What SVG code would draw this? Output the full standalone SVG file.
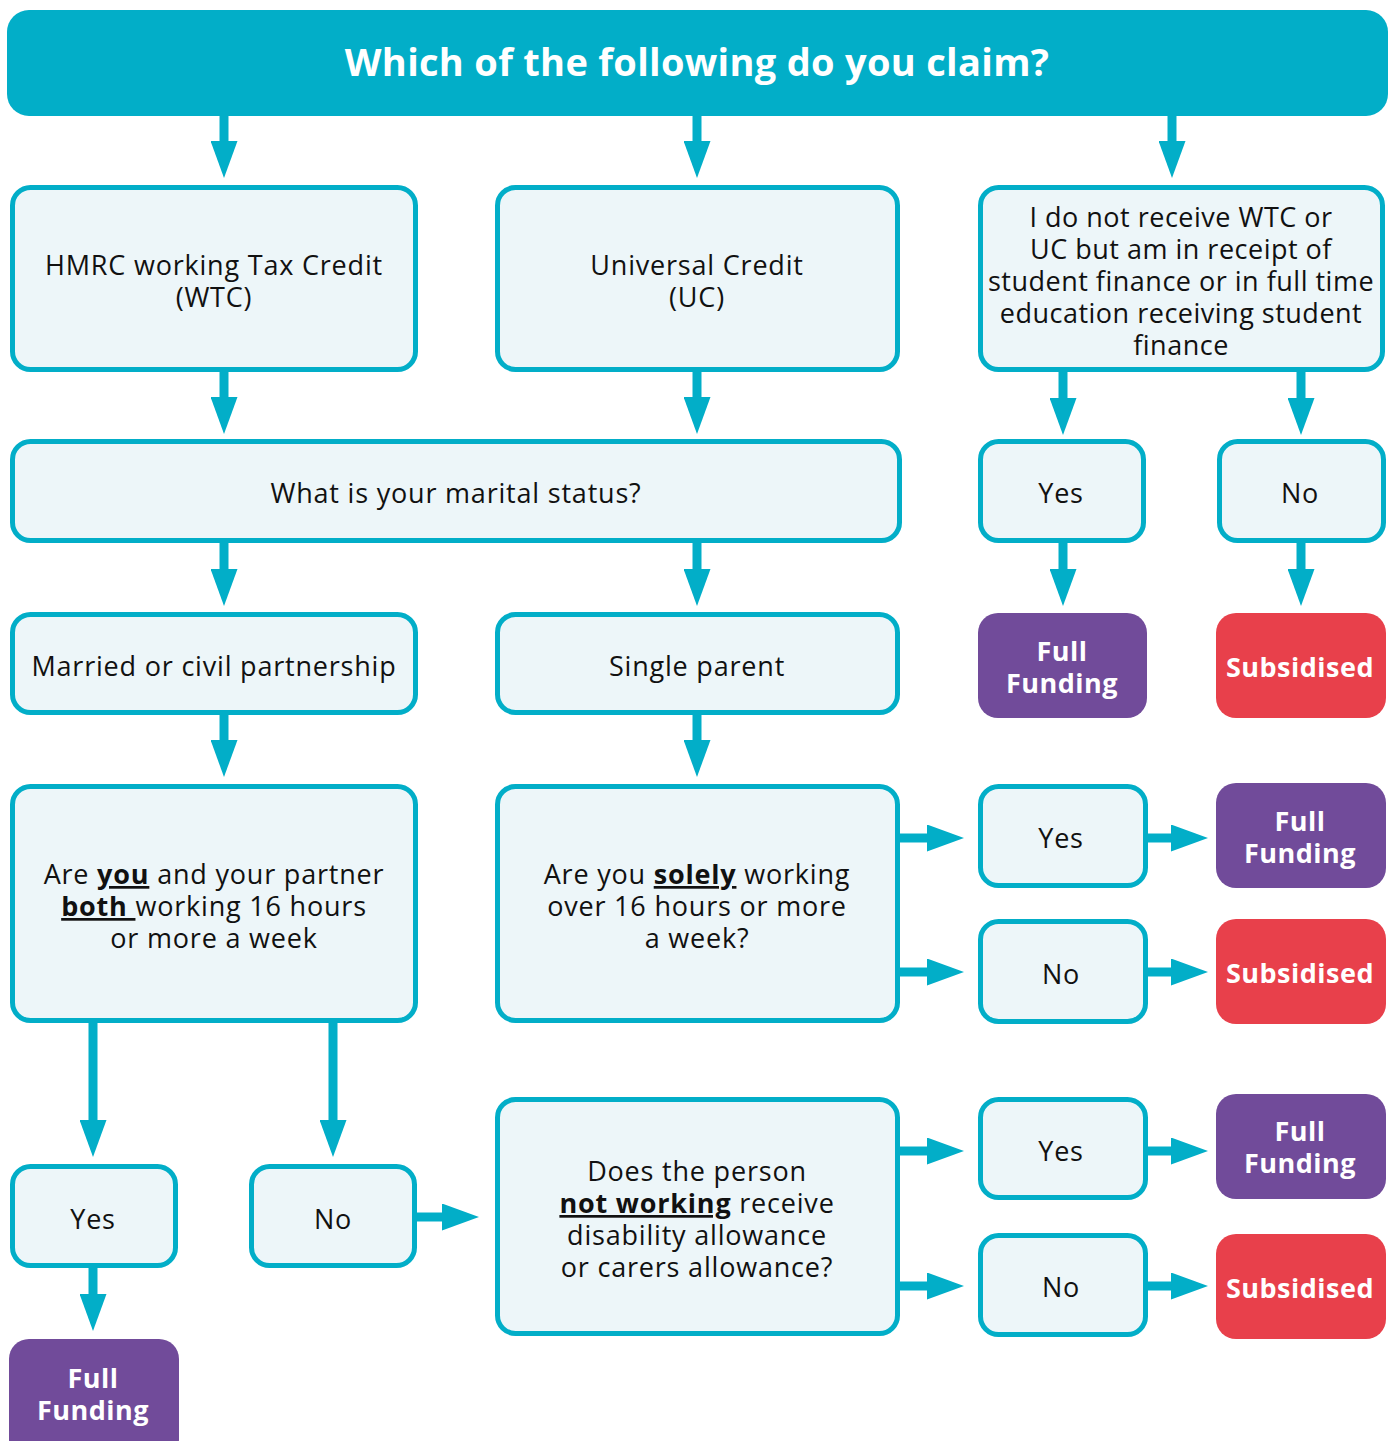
<svg xmlns="http://www.w3.org/2000/svg" width="1395" height="1441" viewBox="0 0 1395 1441">
<style>
.box{fill:#edf6f9;stroke:#02aec8;stroke-width:5}
.ff{fill:#714b9a}
.sub{fill:#e8404b}
.t{font-family:"Open Sans","Lato",sans-serif;font-size:27px;letter-spacing:0.8px;fill:#111;text-anchor:middle}
.s{letter-spacing:0.5px}
.w{font-family:"Open Sans","Lato",sans-serif;font-size:27px;letter-spacing:0.5px;font-weight:bold;fill:#fff;text-anchor:middle}
.c{stroke:#02aec8;stroke-width:9;fill:none;marker-end:url(#ah)}
.u{text-decoration:underline;font-weight:bold}
</style>
<defs>
<marker id="ah" markerUnits="userSpaceOnUse" markerWidth="37" markerHeight="27" refX="0" refY="13.5" orient="auto" viewBox="0 0 37 27">
<path d="M0,0 L37,13.5 L0,27 Z" fill="#02aec8"/>
</marker>
</defs>
<rect width="1395" height="1441" fill="#fff"/>
<g id="connectors">
<path class="c" d="M224,116 V141"/>
<path class="c" d="M697,116 V141"/>
<path class="c" d="M1172,116 V141"/>
<path class="c" d="M224,372 V397"/>
<path class="c" d="M697,372 V397"/>
<path class="c" d="M1063,372 V398"/>
<path class="c" d="M1301,372 V398"/>
<path class="c" d="M1063,543 V569"/>
<path class="c" d="M1301,543 V569"/>
<path class="c" d="M224,543 V569"/>
<path class="c" d="M697,543 V569"/>
<path class="c" d="M224,715 V740"/>
<path class="c" d="M697,715 V740"/>
<path class="c" d="M900,838 H927"/>
<path class="c" d="M900,972 H927"/>
<path class="c" d="M1148,838 H1171"/>
<path class="c" d="M1148,972 H1171"/>
<path class="c" d="M93,1023 V1120"/>
<path class="c" d="M333,1023 V1120"/>
<path class="c" d="M93,1268 V1294"/>
<path class="c" d="M417,1217 H442"/>
<path class="c" d="M900,1151 H927"/>
<path class="c" d="M900,1286 H927"/>
<path class="c" d="M1148,1151 H1171"/>
<path class="c" d="M1148,1286 H1171"/>
</g>
<g id="header">
<rect x="7" y="10" width="1381" height="106" rx="22" fill="#02aec8"/>
<text x="697" y="76" font-family="'Open Sans','Lato',sans-serif" font-size="38" letter-spacing="0.3" font-weight="bold" fill="#fff" text-anchor="middle">Which of the following do you claim?</text>
</g>
<g id="wtc">
<rect class="box" x="12.5" y="187.5" width="403" height="182" rx="18"/>
<text class="t" x="214" y="275">HMRC working Tax Credit</text>
<text class="t" x="214" y="307">(WTC)</text>
</g>
<g id="uc">
<rect class="box" x="497.5" y="187.5" width="400" height="182" rx="18"/>
<text class="t" x="697" y="275">Universal Credit</text>
<text class="t" x="697" y="307">(UC)</text>
</g>
<g id="student">
<rect class="box" x="980.5" y="187.5" width="402" height="182" rx="18"/>
<text class="t s" x="1181" y="227">I do not receive WTC or</text>
<text class="t s" x="1181" y="259">UC but am in receipt of</text>
<text class="t s" x="1181" y="291">student finance or in full time</text>
<text class="t s" x="1181" y="323">education receiving student</text>
<text class="t s" x="1181" y="355">finance</text>
</g>
<g id="marital">
<rect class="box" x="12.5" y="441.5" width="887" height="99" rx="18"/>
<text class="t" x="456" y="503">What is your marital status?</text>
</g>
<g id="student-yes">
<rect class="box" x="980.5" y="441.5" width="163" height="99" rx="18"/>
<text class="t" x="1061" y="503">Yes</text>
</g>
<g id="student-no">
<rect class="box" x="1219.5" y="441.5" width="164" height="99" rx="18"/>
<text class="t" x="1300" y="503">No</text>
</g>
<g id="student-full">
<rect class="ff" x="978" y="613" width="169" height="105" rx="20"/>
<text class="w" x="1062" y="661">Full</text>
<text class="w" x="1062" y="693">Funding</text>
</g>
<g id="student-sub">
<rect class="sub" x="1216" y="613" width="170" height="105" rx="20"/>
<text class="w" x="1300" y="677">Subsidised</text>
</g>
<g id="married">
<rect class="box" x="12.5" y="614.5" width="403" height="98" rx="18"/>
<text class="t" x="214" y="676">Married or civil partnership</text>
</g>
<g id="single">
<rect class="box" x="497.5" y="614.5" width="400" height="98" rx="18"/>
<text class="t" x="697" y="676">Single parent</text>
</g>
<g id="both-working">
<rect class="box" x="12.5" y="786.5" width="403" height="234" rx="18"/>
<text class="t" x="214" y="884">Are <tspan class="u">you</tspan> and your partner</text>
<text class="t" x="214" y="916"><tspan class="u">both </tspan>working 16 hours</text>
<text class="t" x="214" y="948">or more a week</text>
</g>
<g id="solely-working">
<rect class="box" x="497.5" y="786.5" width="400" height="234" rx="18"/>
<text class="t" x="697" y="884">Are you <tspan class="u">solely</tspan> working</text>
<text class="t" x="697" y="916">over 16 hours or more</text>
<text class="t" x="697" y="948">a week?</text>
</g>
<g id="solely-yes">
<rect class="box" x="980.5" y="786.5" width="165" height="99" rx="18"/>
<text class="t" x="1061" y="848">Yes</text>
</g>
<g id="solely-no">
<rect class="box" x="980.5" y="921.5" width="165" height="100" rx="18"/>
<text class="t" x="1061" y="984">No</text>
</g>
<g id="solely-full">
<rect class="ff" x="1216" y="783" width="170" height="105" rx="20"/>
<text class="w" x="1300" y="831">Full</text>
<text class="w" x="1300" y="863">Funding</text>
</g>
<g id="solely-sub">
<rect class="sub" x="1216" y="919" width="170" height="105" rx="20"/>
<text class="w" x="1300" y="983">Subsidised</text>
</g>
<g id="both-yes">
<rect class="box" x="12.5" y="1166.5" width="163" height="99" rx="18"/>
<text class="t" x="93" y="1229">Yes</text>
</g>
<g id="both-no">
<rect class="box" x="251.5" y="1166.5" width="163" height="99" rx="18"/>
<text class="t" x="333" y="1229">No</text>
</g>
<g id="both-full">
<rect class="ff" x="9" y="1339" width="170" height="120" rx="20"/>
<text class="w" x="93" y="1388">Full</text>
<text class="w" x="93" y="1420">Funding</text>
</g>
<g id="disability">
<rect class="box" x="497.5" y="1099.5" width="400" height="234" rx="18"/>
<text class="t" x="697" y="1181">Does the person</text>
<text class="t" x="697" y="1213"><tspan class="u">not working</tspan> receive</text>
<text class="t" x="697" y="1245">disability allowance</text>
<text class="t" x="697" y="1277">or carers allowance?</text>
</g>
<g id="disability-yes">
<rect class="box" x="980.5" y="1099.5" width="165" height="98" rx="18"/>
<text class="t" x="1061" y="1161">Yes</text>
</g>
<g id="disability-no">
<rect class="box" x="980.5" y="1235.5" width="165" height="99" rx="18"/>
<text class="t" x="1061" y="1297">No</text>
</g>
<g id="disability-full">
<rect class="ff" x="1216" y="1094" width="170" height="105" rx="20"/>
<text class="w" x="1300" y="1141">Full</text>
<text class="w" x="1300" y="1173">Funding</text>
</g>
<g id="disability-sub">
<rect class="sub" x="1216" y="1234" width="170" height="105" rx="20"/>
<text class="w" x="1300" y="1298">Subsidised</text>
</g>
</svg>
